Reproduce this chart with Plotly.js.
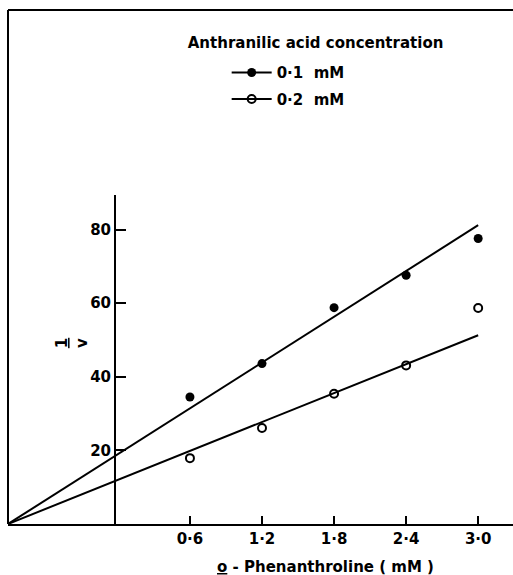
<!DOCTYPE html>
<html>
<head>
<meta charset="utf-8">
<script src="https://cdn.plot.ly/plotly-3.0.1.min.js"></script>
<style>html,body{margin:0;padding:0;background:#fff;}#chart{width:513px;height:575px;}</style>
</head>
<body>
<div id="chart"></div>
<script>
// Data
var phenConc = [0.6, 1.2, 1.8, 2.4, 3.0];            // o-Phenanthroline (mM)
var inv_v_01 = [34.5, 43.6, 58.8, 67.6, 77.6];       // 1/v, anthranilic acid 0.1 mM
var inv_v_02 = [17.9, 26.1, 35.4, 43.1, 58.7];       // 1/v, anthranilic acid 0.2 mM
var fitX = [-0.915, 3.0];                             // fitted line end points (x)
var fit_01 = [0, 81.2];                               // fitted line, 0.1 mM
var fit_02 = [0, 51.3];                               // fitted line, 0.2 mM
var xTickVals = [0.6, 1.2, 1.8, 2.4, 3.0];
var xTickText = ['0\u00b76', '1\u00b72', '1\u00b78', '2\u00b74', '3\u00b70'];
var yTickVals = [20, 40, 60, 80, 89.4];
var yTickText = ['20', '40', '60', '80', ''];
var seriesNames = ['0\u00b71  mM', '0\u00b72  mM'];

var FONT = 'DejaVu Sans, sans-serif';
var INK = '#000';

var traces = [
  {x: fitX, y: fit_01, mode: 'lines', line: {color: INK, width: 2}, showlegend: false, hoverinfo: 'skip'},
  {x: fitX, y: fit_02, mode: 'lines', line: {color: INK, width: 2}, showlegend: false, hoverinfo: 'skip'},
  {x: phenConc, y: inv_v_01, mode: 'markers', showlegend: false,
   marker: {symbol: 'circle', size: 9, color: INK, line: {width: 0}}},
  {x: phenConc, y: inv_v_02, mode: 'markers', showlegend: false,
   marker: {symbol: 'circle-open', size: 8, color: INK, line: {width: 2, color: INK}}},
  // legend samples
  {x: [null], y: [null], mode: 'lines+markers', name: seriesNames[0], legendgroup: 'a',
   line: {color: INK, width: 2}, marker: {symbol: 'circle', size: 9, color: INK}},
  {x: [null], y: [null], mode: 'lines+markers', name: seriesNames[1], legendgroup: 'b',
   line: {color: INK, width: 2}, marker: {symbol: 'circle-open', size: 8, color: INK, line: {width: 2, color: INK}}}
];

var layout = {
  width: 513, height: 575,
  margin: {l: 8, r: 0, t: 10, b: 51},
  paper_bgcolor: '#fff', plot_bgcolor: 'rgba(0,0,0,0)',
  font: {family: FONT, color: INK, size: 14},
  title: {text: '<b>Anthranilic acid concentration</b>', font: {family: FONT, size: 15, color: INK},
          xref: 'paper', x: 0.356, xanchor: 'left', yref: 'container', y: 0.925, yanchor: 'middle'},
  showlegend: true,
  legend: {x: 0.433, y: 0.91, xanchor: 'left', yanchor: 'top', bgcolor: 'rgba(0,0,0,0)',
           font: {family: FONT, size: 15, color: INK, weight: 'bold'}, tracegroupgap: 4, traceorder: 'grouped',
           itemwidth: 40},
  xaxis: {range: [-0.915, 3.29], showgrid: false, zeroline: false, showline: true, linecolor: INK, linewidth: 2,
          ticks: 'inside', ticklen: 8, tickwidth: 2, tickcolor: INK,
          tickvals: xTickVals, ticktext: xTickText,
          tickfont: {family: FONT, size: 15, color: INK, weight: 'bold'}},
  yaxis: {domain: [0, 0.64], range: [0, 89.4], anchor: 'free', position: 0.212,
          showgrid: false, zeroline: false, showline: true, linecolor: INK, linewidth: 2,
          ticks: 'inside', ticklen: 10, tickwidth: 2, tickcolor: INK,
          tickvals: yTickVals, ticktext: yTickText,
          tickfont: {family: FONT, size: 15, color: INK, weight: 'bold'}},
  shapes: [
    {type: 'line', xref: 'paper', yref: 'paper', x0: 0, x1: 1, y0: 1, y1: 1, line: {color: INK, width: 2}},
    {type: 'line', xref: 'paper', yref: 'paper', x0: 0, x1: 0, y0: 0, y1: 1, line: {color: INK, width: 2}}
  ],
  annotations: [
    {xref: 'paper', yref: 'paper', x: 0.628, y: -0.0837, xanchor: 'center', yanchor: 'middle', showarrow: false,
     text: '<b><u>o</u> - Phenanthroline ( mM )</b>', font: {family: FONT, size: 15, color: INK}},
    {xref: 'paper', yref: 'paper', x: 0.127, y: 0.352, xanchor: 'center', yanchor: 'middle', showarrow: false,
     textangle: -90, text: '<b><u>1</u><br>v</b>', font: {family: FONT, size: 15, color: INK}}
  ]
};

Plotly.newPlot('chart', traces, layout, {displayModeBar: false, staticPlot: true});
</script>
</body>
</html>
